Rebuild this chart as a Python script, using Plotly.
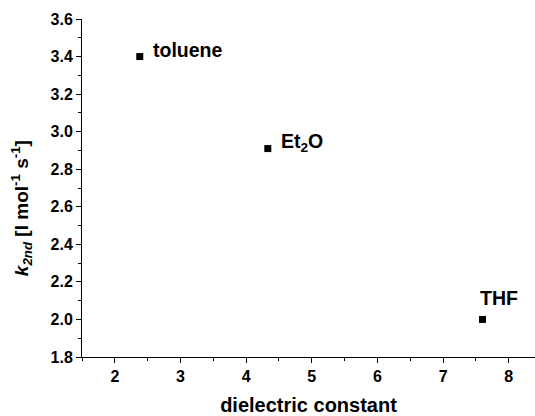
import plotly.graph_objects as go

solvents = ["toluene", "Et<sub>2</sub>O", "THF"]
dielectric = [2.38, 4.33, 7.6]
k2nd = [3.40, 2.91, 2.00]
label_dx = [11, 11, -4]
label_dy = [-7, -6, -21]

x_ticks = [2, 3, 4, 5, 6, 7, 8]
y_ticks = [1.8, 2.0, 2.2, 2.4, 2.6, 2.8, 3.0, 3.2, 3.4, 3.6]

font = "Liberation Sans, Arial, sans-serif"

fig = go.Figure()
fig.add_trace(go.Scatter(
    x=dielectric, y=k2nd, mode="markers",
    marker=dict(symbol="square", size=7, color="black"),
    showlegend=False, cliponaxis=False))

for x, y, t, dx, dy in zip(dielectric, k2nd, solvents, label_dx, label_dy):
    fig.add_annotation(x=x, y=y, text="<b>" + t + "</b>", showarrow=False,
                       xanchor="left", yanchor="middle", xshift=dx, yshift=-dy,
                       font=dict(family=font, size=19.5, color="black"))

# y-axis title placed as a rotated annotation
fig.add_annotation(xref="paper", yref="paper", x=-0.135, y=0.44,
                   text="<b><i>k<sub>2nd</sub></i> [l mol<sup>-1</sup> s<sup>-1</sup>]</b>",
                   textangle=-90, showarrow=False, xanchor="center", yanchor="middle",
                   font=dict(family=font, size=19, color="black"))

fig.update_layout(
    width=535, height=416,
    margin=dict(l=82, r=0, t=19, b=59),
    plot_bgcolor="white", paper_bgcolor="white",
    font=dict(family=font, color="black"),
    xaxis=dict(range=[1.5, 8.4], tickmode="array", tickvals=x_ticks,
               ticktext=["<b>%d</b>" % v for v in x_ticks],
               ticks="outside", ticklen=5, tickwidth=1, tickcolor="black",
               showline=True, linecolor="black", linewidth=1,
               showgrid=False, zeroline=False,
               minor=dict(ticks="outside", ticklen=3, dtick=0.5, tickcolor="black"),
               tickfont=dict(family=font, size=16, color="black", weight="bold"),
               title=dict(text="<b>dielectric constant</b>",
                          font=dict(family=font, size=20, color="black"),
                          standoff=13)),
    yaxis=dict(range=[1.8, 3.6], tickmode="array", tickvals=y_ticks,
               ticktext=["<b>%.1f</b>" % v for v in y_ticks],
               ticks="outside", ticklen=5, tickwidth=1, tickcolor="black",
               showline=True, linecolor="black", linewidth=1,
               showgrid=False, zeroline=False,
               minor=dict(ticks="outside", ticklen=3, dtick=0.1, tickcolor="black"),
               tickfont=dict(family=font, size=16, color="black", weight="bold")),
)

fig.write_html("out.html")
